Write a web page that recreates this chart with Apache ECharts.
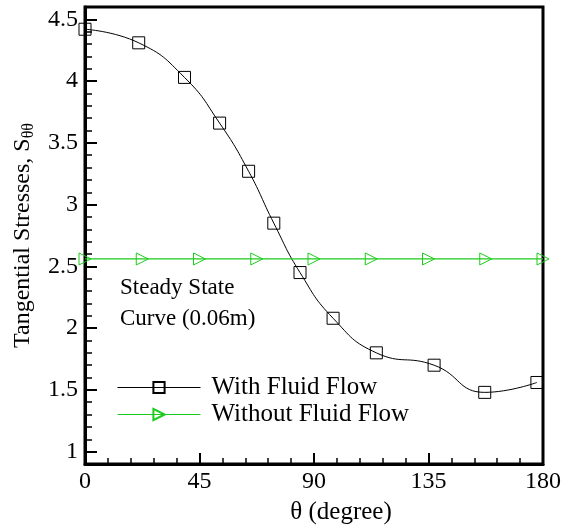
<!DOCTYPE html>
<html>
<head>
<meta charset="utf-8">
<script src="https://cdn.jsdelivr.net/npm/echarts@6/dist/echarts.min.js"></script>
<style>
  html, body { margin: 0; padding: 0; background: #fff; }
  #chart { width: 581px; height: 530px; }
</style>
</head>
<body>
<div id="chart"></div>
<script>
// with fluid flow (squares)
var fluidTheta = [0, 21.1, 39.1, 52.9, 64.3, 74.2, 84.5, 97.5, 114.5, 137.2, 157.1, 177.6];
var fluidStress = [4.42, 4.31, 4.03, 3.66, 3.27, 2.85, 2.45, 2.08, 1.80, 1.70, 1.48, 1.56];
// without fluid flow (triangles)
var noFluidTheta = [0, 22.5, 45, 67.5, 90, 112.5, 135, 157.5, 180];
var noFluidStress = [2.56, 2.56, 2.56, 2.56, 2.56, 2.56, 2.56, 2.56, 2.56];
// y ticks
var yMajorTicks = [1, 1.5, 2, 2.5, 3, 3.5, 4, 4.5];
var yMinorTicks = [0.9, 1.1, 1.2, 1.3, 1.4, 1.6, 1.7, 1.8, 1.9, 2.1, 2.2, 2.3, 2.4,
    2.6, 2.7, 2.8, 2.9, 3.1, 3.2, 3.3, 3.4, 3.6, 3.7, 3.8, 3.9, 4.1, 4.2, 4.3, 4.4, 4.6];

function pairs(xs, ys) {
    return xs.map(function (x, i) { return [x, ys[i]]; });
}

var serif = 'Liberation Serif';
var green = '#1ccc1c';

var myChart = echarts.init(document.getElementById('chart'));
var option = {
    animation: false,
    grid: {
        left: 85, right: 38, top: 7, bottom: 61,
        show: true,
        borderColor: '#000',
        borderWidth: 3
    },
    legend: {
        orient: 'vertical',
        left: 112,
        top: 370,
        itemWidth: 83,
        itemHeight: 14,
        itemGap: 2,
        lineStyle: {width: 1},
        textStyle: {fontFamily: serif, fontSize: 25, color: '#000', padding: [0, 0, 0, 6]},
        data: ['With Fluid Flow', 'Without Fluid Flow']
    },
    xAxis: {
        type: 'value',
        min: 0,
        max: 180,
        interval: 45,
        name: 'θ (degree)',
        nameLocation: 'middle',
        nameGap: 36,
        nameTextStyle: {fontFamily: serif, fontSize: 25, color: '#000', padding: [0, 0, 0, 54]},
        axisLine: {lineStyle: {color: '#000', width: 3}},
        axisTick: {inside: true, length: 11, lineStyle: {color: '#000', width: 2}},
        minorTick: {show: true, splitNumber: 5, length: 6, lineStyle: {color: '#000', width: 1.5}},
        axisLabel: {fontFamily: serif, fontSize: 24, color: '#000', margin: 6},
        splitLine: {show: false}
    },
    yAxis: [
        {
            type: 'value',
            min: 0.9,
            max: 4.6,
            name: '{n|Tangential Stresses, S}{s|θθ}',
            nameLocation: 'middle',
            nameGap: 46,
            nameTextStyle: {
                color: '#000',
                rich: {
                    n: {fontFamily: serif, fontSize: 24, color: '#000'},
                    s: {fontFamily: serif, fontSize: 16, color: '#000', padding: [12, 0, 0, 0]}
                }
            },
            axisLine: {lineStyle: {color: '#000', width: 3}},
            axisTick: {inside: true, length: 12, customValues: yMajorTicks, lineStyle: {color: '#000', width: 2}},
            axisLabel: {fontFamily: serif, fontSize: 24, color: '#000', margin: 7, customValues: yMajorTicks},
            splitLine: {show: false}
        },
        {
            type: 'value',
            position: 'left',
            min: 0.9,
            max: 4.6,
            axisLine: {show: false},
            axisTick: {inside: true, length: 7, customValues: yMinorTicks, lineStyle: {color: '#000', width: 1.5}},
            axisLabel: {show: false},
            splitLine: {show: false}
        }
    ],
    graphic: [
        {
            type: 'text',
            left: 120,
            top: 272,
            style: {
                text: 'Steady State\nCurve (0.06m)',
                fontFamily: serif,
                fontSize: 23,
                lineHeight: 31,
                fill: '#000'
            }
        }
    ],
    series: [
        {
            name: 'With Fluid Flow',
            type: 'line',
            smooth: true,
            data: pairs(fluidTheta, fluidStress),
            symbol: 'rect',
            symbolSize: 12,
            lineStyle: {color: '#000', width: 1},
            itemStyle: {color: 'rgba(0,0,0,0)', borderColor: '#000', borderWidth: 1}
        },
        {
            name: 'Without Fluid Flow',
            type: 'line',
            data: pairs(noFluidTheta, noFluidStress),
            symbol: 'triangle',
            symbolRotate: -90,
            symbolSize: 12,
            lineStyle: {color: green, width: 1.2},
            itemStyle: {color: 'rgba(0,0,0,0)', borderColor: green, borderWidth: 1}
        }
    ]
};
myChart.setOption(option);
</script>
</body>
</html>
